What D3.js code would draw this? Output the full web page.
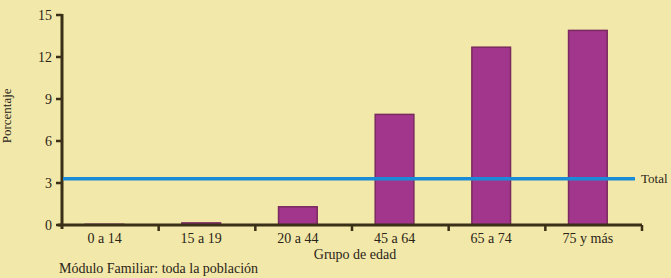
<!DOCTYPE html>
<html>
<head>
<meta charset="utf-8">
<title>Porcentaje por grupo de edad</title>
<script src="https://cdnjs.cloudflare.com/ajax/libs/d3/7.8.5/d3.min.js"></script>
<style>
  body { margin: 0; background: #f2e8a9; }
  svg { display: block; }
  text { font-family: "Liberation Serif", "DejaVu Serif", serif; fill: #2a2418; }
</style>
</head>
<body>
<svg id="chart" width="671" height="278"></svg>
<script>
// data
const groups = ['0 a 14', '15 a 19', '20 a 44', '45 a 64', '65 a 74', '75 y más']
const values = [0.05, 0.15, 1.3, 7.9, 12.7, 13.9]
const yTicks = [0, 3, 6, 9, 12, 15]
const totalValue = 3.3

const svg = d3.select('#chart')
const margin = {left: 62, right: 29, top: 15, bottom: 53}
const W = 671, H = 278

const x = d3.scaleBand()
  .domain(groups)
  .range([margin.left, W - margin.right])
  .paddingInner(0.6)
  .paddingOuter(0.3)
  .align(0.4)

const xEdges = d3.scaleLinear()
  .domain([0, groups.length])
  .range([margin.left, W - margin.right])

const y = d3.scaleLinear()
  .domain([0, 15])
  .range([H - margin.bottom, margin.top])

const axisColor = '#3a2f17'

// bars
svg.selectAll('.bar')
  .data(values)
  .enter()
  .append('rect')
  .attr('class', 'bar')
  .attr('x', (d, i) => x(groups[i]))
  .attr('y', d => y(d))
  .attr('width', x.bandwidth())
  .attr('height', d => y(0) - y(d))
  .attr('fill', '#a1368c')
  .attr('stroke', '#7a2a5e')
  .attr('stroke-width', 1.5)

// y axis
const yAxis = svg.append('g')
yAxis.append('line')
  .attr('x1', margin.left).attr('x2', margin.left)
  .attr('y1', y(15) - 1).attr('y2', y(0) + 4)
  .attr('stroke', axisColor).attr('stroke-width', 3)
yAxis.selectAll('.ytick')
  .data(yTicks)
  .enter()
  .append('line')
  .attr('x1', margin.left - 6).attr('x2', margin.left)
  .attr('y1', d => y(d)).attr('y2', d => y(d))
  .attr('stroke', axisColor).attr('stroke-width', 2.5)
yAxis.selectAll('.ylab')
  .data(yTicks)
  .enter()
  .append('text')
  .attr('x', margin.left - 10)
  .attr('y', d => y(d) + 5)
  .attr('text-anchor', 'end')
  .attr('font-size', 14)
  .text(d => d)

// x axis
const xAxis = svg.append('g')
xAxis.append('line')
  .attr('x1', margin.left - 4).attr('x2', W - margin.right)
  .attr('y1', y(0)).attr('y2', y(0))
  .attr('stroke', axisColor).attr('stroke-width', 3)
xAxis.selectAll('.xtick')
  .data(d3.range(1, groups.length + 1))
  .enter()
  .append('line')
  .attr('x1', d => xEdges(d)).attr('x2', d => xEdges(d))
  .attr('y1', y(0)).attr('y2', y(0) + 6)
  .attr('stroke', axisColor).attr('stroke-width', 2.5)
xAxis.selectAll('.xlab')
  .data(groups)
  .enter()
  .append('text')
  .attr('x', d => x(d) + x.bandwidth() / 2)
  .attr('y', y(0) + 18)
  .attr('text-anchor', 'middle')
  .attr('font-size', 14)
  .text(d => d)

// total line
svg.append('line')
  .attr('x1', margin.left + 1).attr('x2', 635)
  .attr('y1', y(totalValue)).attr('y2', y(totalValue))
  .attr('stroke', '#1a8bd6').attr('stroke-width', 3.5)
svg.append('text')
  .attr('x', 641).attr('y', y(totalValue) + 4)
  .attr('font-size', 13)
  .text('Total')

// titles
svg.append('text')
  .attr('transform', `translate(11, ${y(7.8)}) rotate(-90)`)
  .attr('text-anchor', 'middle')
  .attr('font-size', 13)
  .text('Porcentaje')
svg.append('text')
  .attr('x', 355).attr('y', 259)
  .attr('text-anchor', 'middle')
  .attr('font-size', 14)
  .text('Grupo de edad')
svg.append('text')
  .attr('x', 59).attr('y', 273)
  .attr('font-size', 14)
  .text('Módulo Familiar: toda la población')
</script>
</body>
</html>
